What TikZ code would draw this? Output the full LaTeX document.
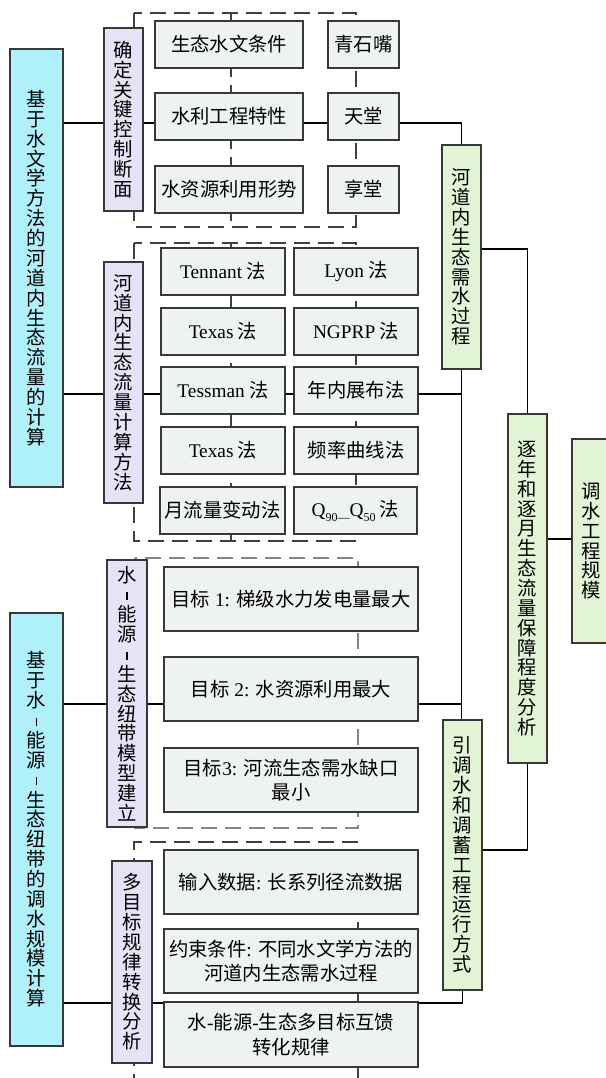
\documentclass[tikz,border=0pt]{standalone}
\usepackage{fontspec}
\usepackage{graphicx}
\setmainfont{Liberation Serif}
\newfontfamily\cjk{Noto Sans CJK SC}
\definecolor{bluef}{HTML}{B0F0FB}
\definecolor{purpf}{HTML}{E7E2F5}
\definecolor{grayf}{HTML}{EEF2F2}
\definecolor{greenf}{HTML}{E2F4D6}
\definecolor{bordc}{HTML}{383838}
\definecolor{dashc}{HTML}{404040}
\definecolor{dashg}{HTML}{858585}
\newcommand\vh{\rule[1.5pt]{1pt}{6pt}}
\makeatletter
\def\vstk@end{vstkend}
\newcommand\vstk[1]{\vstk@a#1\vstk@end}
\def\vstk@a#1{\ifx#1\vstk@end\else#1\expandafter\vstk@b\fi}
\def\vstk@b#1{\ifx#1\vstk@end\else\\#1\expandafter\vstk@b\fi}
\makeatother
\newcommand\bx[7]{\node[#1, minimum width={(#5-#3)*0.75pt}, minimum height={(#6-#4)*0.75pt}] (#2) at ({(#3+#5)/2},{(#4+#6)/2}) {#7};}
\tikzset{
  basebox/.style={draw=bordc, line width=0.9pt, inner sep=0pt, align=center},
  vbox/.style={basebox, font=\cjk\fontsize{14.5}{14.9}\selectfont},
  hbox/.style={basebox, fill=grayf, font=\cjk\fontsize{14.5}{18.5}\selectfont},
  bluebox/.style={vbox, fill=bluef},
  purpbox/.style={vbox, fill=purpf},
  greenbox/.style={vbox, fill=greenf},
  conn/.style={line width=0.8pt, black},
  dashbox/.style={draw=dashc, line width=0.8pt, dash pattern=on 12pt off 6pt},
  dashgray/.style={draw=dashg, line width=1.2pt, dash pattern=on 12pt off 6pt},
}
\begin{document}
\begin{tikzpicture}[x=0.75pt,y=-0.75pt]
\clip (0,0) rectangle (606,1078);
\useasboundingbox (0,0) rectangle (606,1078);
% dashed groups
\draw[dashbox] (134,13) rectangle (356,227);
\draw[dashbox] (231,13) -- (231,227);
\draw[dashbox] (134,243) rectangle (356,541);
\draw[dashbox] (231,243) -- (231,541);
\draw[dashgray] (135,558) rectangle (358,828);
\draw[dashbox] (134,1090) -- (134,842) -- (358,842) -- (358,1090);
% level coordinates
\coordinate (L1) at (0,123);
\coordinate (L2) at (0,394);
\coordinate (L3) at (0,704);
\coordinate (L4) at (0,1003);
\coordinate (La) at (0,249);
\coordinate (Lb) at (0,539);
\coordinate (Lc) at (0,850);
\coordinate (V1) at (462,0);
% boxes
\bx{bluebox}{b1}{10}{49}{63}{487}{\vstk{基于水文学方法的河道内生态流量的计算}}
\bx{bluebox}{b2}{10}{613}{63}{1046}{\vstk{基于水\vh 能源\vh 生态纽带的调水规模计算}}
\bx{purpbox}{p1}{104}{28}{143}{211}{\vstk{确定关键控制断面}}
\bx{purpbox}{p2}{104}{262}{143}{503}{\vstk{河道内生态流量计算方法}}
\bx{purpbox}{p3}{107}{560}{147}{827}{\vstk{水\vh 能源\vh 生态纽带模型建立}}
\bx{purpbox}{p4}{112}{861}{152}{1063}{\vstk{多目标规律转换分析}}
\bx{hbox}{s1}{155}{21}{303}{68}{生态水文条件}
\bx{hbox}{s2}{155}{93}{303}{140}{水利工程特性}
\bx{hbox}{s3}{155}{166}{303}{213}{水资源利用形势}
\bx{hbox}{s4}{328}{21}{399}{68}{青石嘴}
\bx{hbox}{s5}{328}{93}{399}{140}{天堂}
\bx{hbox}{s6}{328}{166}{399}{213}{享堂}
\bx{hbox}{t1}{161}{248}{285}{295}{{\rmfamily Tennant} 法}
\bx{hbox}{t2}{161}{308}{285}{355}{{\rmfamily Texas} 法}
\bx{hbox}{t3}{161}{367}{285}{414}{{\rmfamily Tessman} 法}
\bx{hbox}{t4}{161}{427}{285}{474}{{\rmfamily Texas} 法}
\bx{hbox}{t5}{160}{487}{285}{534}{月流量变动法}
\bx{hbox}{u1}{294}{248}{418}{295}{{\rmfamily Lyon} 法}
\bx{hbox}{u2}{294}{308}{418}{355}{{\rmfamily NGPRP} 法}
\bx{hbox}{u3}{294}{367}{418}{414}{年内展布法}
\bx{hbox}{u4}{294}{427}{418}{474}{频率曲线法}
\bx{hbox}{u5}{294}{487}{417}{534}{{\rmfamily Q\raisebox{-0.55ex}{\fontsize{9}{9}\selectfont 90—}Q\raisebox{-0.55ex}{\fontsize{9}{9}\selectfont 50}} 法}
\bx{hbox}{m1}{164}{567}{418}{631}{目标{\rmfamily\ 1: }梯级水力发电量最大}
\bx{hbox}{m2}{164}{657}{418}{721}{目标{\rmfamily\ 2: }水资源利用最大}
\bx{hbox}{m3}{164}{748}{418}{812}{目标{\rmfamily 3: }河流生态需水缺口\\最小}
\bx{hbox}{n1}{164}{850}{418}{914}{输入数据{\rmfamily : }长系列径流数据}
\bx{hbox}{n2}{164}{929}{418}{993}{约束条件{\rmfamily : }不同水文学方法的\\河道内生态需水过程}
\bx{hbox}{n3}{164}{1002}{418}{1067}{水{\rmfamily -}能源{\rmfamily -}生态多目标互馈\\转化规律}
\bx{greenbox}{g1}{442}{145}{481}{369}{\vstk{河道内生态需水过程}}
\bx{greenbox}{g2}{508}{414}{547}{763}{\vstk{逐年和逐月生态流量保障程度分析}}
\bx{greenbox}{g3}{572}{439}{610}{643}{\vstk{调水工程规模}}
\bx{greenbox}{g4}{443}{720}{482}{990}{\vstk{引调水和调蓄工程运行方式}}
% connectors
\draw[conn] (b1.east |- L1) -- (p1.west |- L1);
\draw[conn] (p1.east |- L1) -- (s2.west |- L1);
\draw[conn] (s2.east |- L1) -- (s5.west |- L1);
\draw[conn] (s5.east |- L1) -| (g1.north);
\draw[conn] (b1.east |- L2) -- (p2.west |- L2);
\draw[conn] (p2.east |- L2) -- (t3.west |- L2);
\draw[conn] (t3.east |- L2) -- (u3.west |- L2);
\draw[conn] (u3.east |- L2) -- (V1 |- L2);
\draw[conn] (g1.south) -- (g1.south |- g4.north);
\draw[conn] (b2.east |- L3) -- (p3.west |- L3);
\draw[conn] (p3.east |- L3) -- (m2.west |- L3);
\draw[conn] (m2.east |- L3) -- (V1 |- L3);
\draw[conn] (b2.east |- L4) -- (p4.west |- L4);
\draw[conn] (p4.east |- L4) -- (n3.west |- L4);
\draw[conn] (n3.east |- L4) -| (g4.south);
\draw[conn] (g1.east |- La) -| (g2.north);
\draw[conn] (g2.east |- Lb) -- (g3.west |- Lb);
\draw[conn] (g2.south) |- (g4.east |- Lc);
\end{tikzpicture}
\end{document}
